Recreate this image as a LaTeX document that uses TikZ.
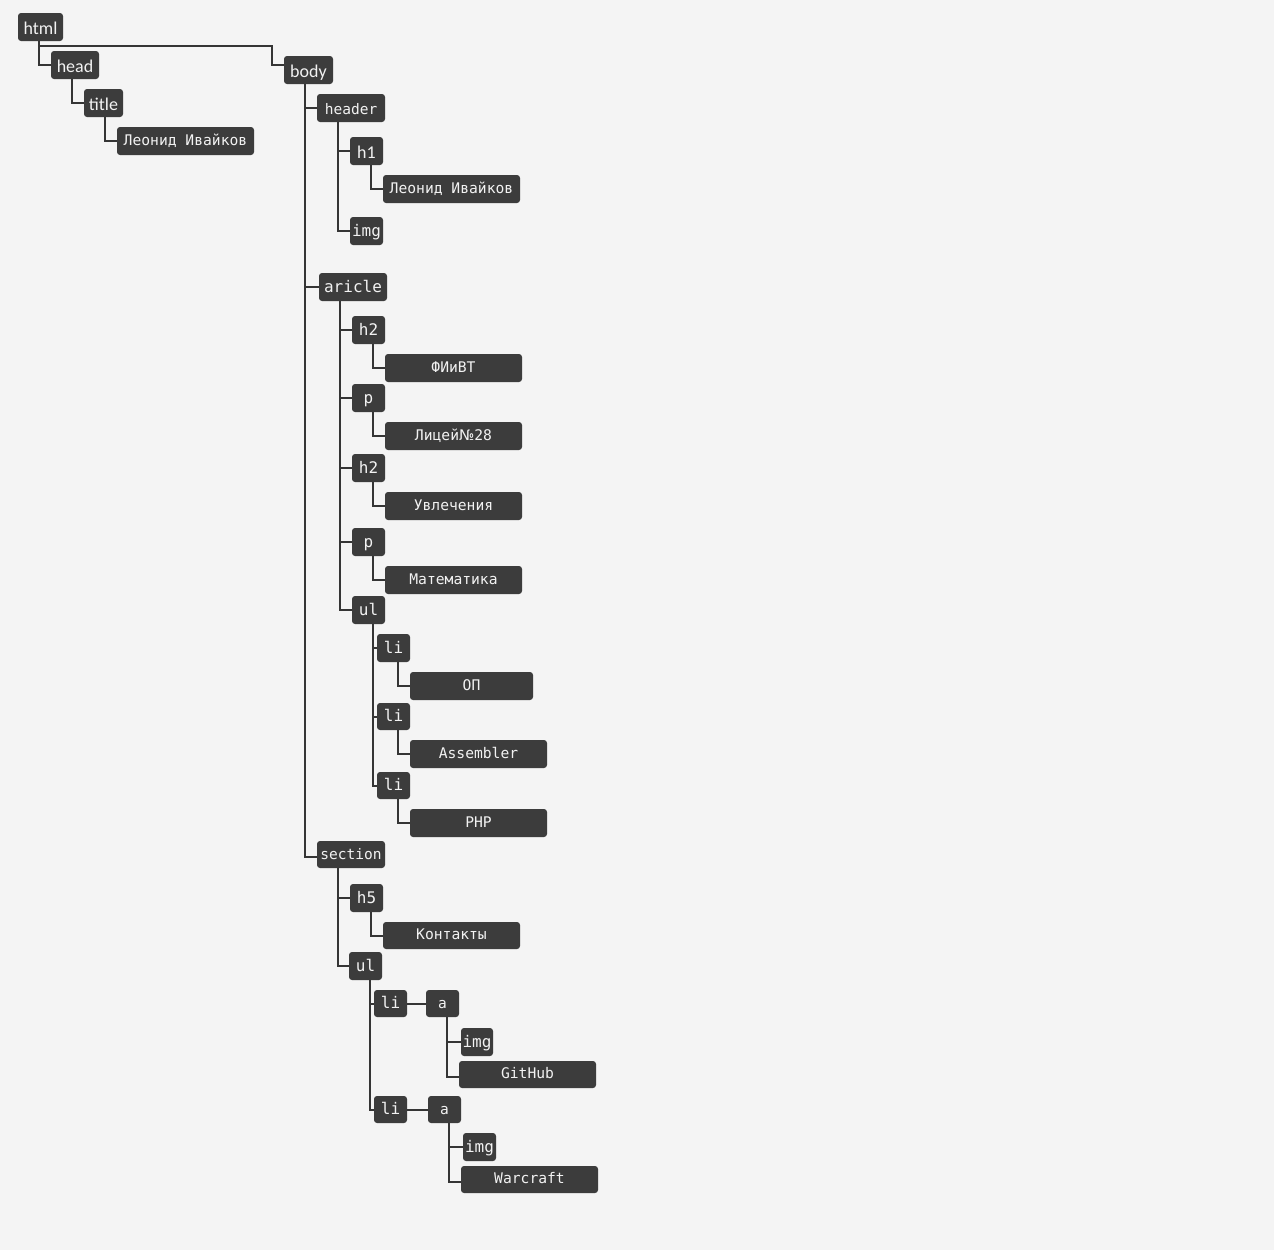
\documentclass[tikz,border=0pt]{standalone}
\usepackage{fontspec}
\setmainfont{Carlito}
\newfontfamily\monofam{DejaVu Sans Mono}
\newfontfamily\dvsans{DejaVu Sans}
\definecolor{bgc}{HTML}{F4F4F4}
\definecolor{boxc}{HTML}{3C3C3C}
\definecolor{linec}{HTML}{353535}
\definecolor{txtc}{HTML}{F2F2F2}
\tikzset{
  box/.style={fill=boxc, text=txtc, rounded corners=2.25pt, inner sep=0pt, anchor=center, text depth=0pt},
  sansf/.style={font=\fontsize{13.5pt}{14pt}\selectfont, text height=11pt},
  monof/.style={font=\monofam\fontsize{12pt}{13pt}\selectfont, text height=8pt},
  monos/.style={font=\monofam\fontsize{10.9pt}{12pt}\selectfont, text height=7pt},
  leaff/.style={font=\monofam\fontsize{11pt}{12pt}\selectfont, text height=6.5pt},
  conn/.style={draw=linec, line width=1.5pt}
}
\newcommand\tbox[7]{%
  \pgfmathsetmacro\bw{(#4-#2)*0.75}%
  \pgfmathsetmacro\bh{(#5-#3)*0.75}%
  \node[box,#6,minimum width=\bw pt,minimum height=\bh pt] (#1) at ({(#2+#4)/2},{(#3+#5)/2}) {#7};
  \coordinate (#1d) at ([shift={(21,0)}]#1.south west);}
\begin{document}
\begin{tikzpicture}[x=0.75pt,y=-0.75pt]
\fill[bgc] (0,0) rectangle (1274,1250);
\useasboundingbox (0,0) rectangle (1274,1250);
% nodes
\tbox{html}{18}{13}{63}{41}{sansf}{html}
\tbox{head}{51}{51}{99}{79}{sansf}{head}
\tbox{title}{84}{89}{123}{117}{sansf}{title}
\tbox{t1}{117}{127}{254}{155}{leaff}{Леонид Ивайков}
\tbox{body}{284}{56}{333}{84}{sansf}{body}
\tbox{header}{317}{94}{385}{122}{monos,text height=10pt}{header}
\tbox{h1}{350}{137}{383}{165}{sansf}{h1}
\tbox{t2}{383}{175}{520}{203}{leaff}{Леонид Ивайков}
\tbox{img1}{350}{217}{383}{245}{monof}{img}
\tbox{aricle}{319}{273}{387}{301}{monof}{aricle}
\tbox{h2a}{352}{316}{385}{344}{monof}{h2}
\tbox{t3}{385}{354}{522}{382}{leaff}{ФИиВТ}
\tbox{pa}{352}{384}{385}{412}{monof}{p}
\tbox{t4}{385}{422}{522}{450}{leaff}{Лицей{\dvsans №}28}
\tbox{h2b}{352}{454}{385}{482}{monof}{h2}
\tbox{t5}{385}{492}{522}{520}{leaff}{Увлечения}
\tbox{pb}{352}{528}{385}{556}{monof}{p}
\tbox{t6}{385}{566}{522}{594}{leaff}{Математика}
\tbox{ul1}{352}{596}{385}{624}{monof}{ul}
\tbox{li1}{377}{634}{410}{662}{monof}{li}
\tbox{t7}{410}{672}{533}{700}{leaff}{ОП}
\tbox{li2}{377}{703}{410}{730}{monof}{li}
\tbox{t8}{410}{740}{547}{768}{leaff}{Assembler}
\tbox{li3}{377}{772}{410}{799}{monof}{li}
\tbox{t9}{410}{809}{547}{837}{leaff}{PHP}
\tbox{section}{317}{841}{385}{868}{monos}{section}
\tbox{h5}{350}{884}{383}{912}{monof}{h5}
\tbox{t10}{383}{922}{520}{949}{leaff}{Контакты}
\tbox{ul2}{349}{952}{382}{980}{monof}{ul}
\tbox{li4}{374}{990}{407}{1017}{monof}{li}
\tbox{a1}{426}{990}{459}{1017}{monos}{a}
\tbox{img2}{461}{1028}{493}{1056}{monof}{img}
\tbox{t11}{459}{1061}{596}{1088}{leaff}{GitHub}
\tbox{li5}{374}{1096}{407}{1123}{monof}{li}
\tbox{a2}{428}{1096}{461}{1123}{monos}{a}
\tbox{img3}{463}{1133}{496}{1161}{monof}{img}
\tbox{t12}{461}{1166}{598}{1193}{leaff}{Warcraft}
\coordinate (hb) at (272,46);
% connectors
\draw[conn] (htmld) |- (head.west);
\draw[conn] (htmld) |- (hb) |- ([shift={(0,-5)}]body.west);
\draw[conn] (headd) |- (title.west);
\draw[conn] (titled) |- (t1.west);
\draw[conn] (bodyd) |- (header.west);
\draw[conn] (bodyd) |- (aricle.west);
\draw[conn] (bodyd) |- ([shift={(0,2)}]section.west);
\draw[conn] (headerd) |- (h1.west);
\draw[conn] (headerd) |- (img1.west);
\draw[conn] (h1d) |- (t2.west);
\draw[conn] (aricled) |- (h2a.west);
\draw[conn] (aricled) |- (pa.west);
\draw[conn] (aricled) |- (h2b.west);
\draw[conn] (aricled) |- (pb.west);
\draw[conn] (aricled) |- (ul1.west);
\draw[conn] (h2ad) |- (t3.west);
\draw[conn] (pad) |- (t4.west);
\draw[conn] (h2bd) |- (t5.west);
\draw[conn] (pbd) |- (t6.west);
\draw[conn] (ul1d) |- (li1.west);
\draw[conn] (ul1d) |- (li2.west);
\draw[conn] (ul1d) |- (li3.west);
\draw[conn] (li1d) |- (t7.west);
\draw[conn] (li2d) |- (t8.west);
\draw[conn] (li3d) |- (t9.west);
\draw[conn] (sectiond) |- (h5.west);
\draw[conn] (sectiond) |- (ul2.west);
\draw[conn] (h5d) |- (t10.west);
\draw[conn] (ul2d) |- (li4.west);
\draw[conn] (ul2d) |- (li5.west);
\draw[conn] (li4.east) -- (a1.west);
\draw[conn] (li5.east) -- (a2.west);
\draw[conn] (a1d) |- (img2.west);
\draw[conn] (a1d) |- ([shift={(0,2)}]t11.west);
\draw[conn] (a2d) |- (img3.west);
\draw[conn] (a2d) |- ([shift={(0,2)}]t12.west);
\end{tikzpicture}
\end{document}
